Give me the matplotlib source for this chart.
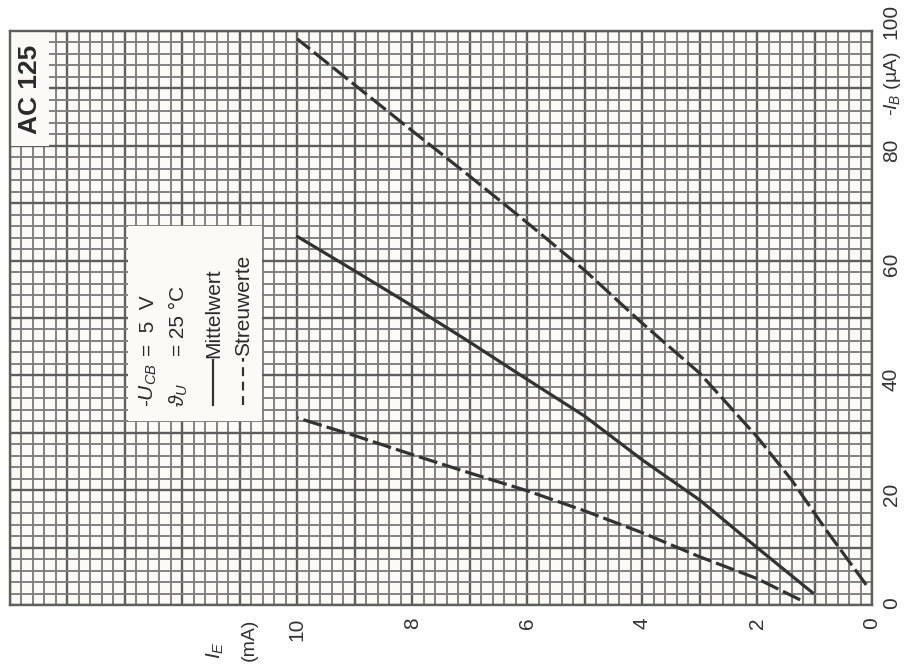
import matplotlib
matplotlib.use("Agg")
import matplotlib.pyplot as plt
from matplotlib.patches import Rectangle
from matplotlib.ticker import MultipleLocator, FuncFormatter

plt.rcParams['font.family'] = ['Liberation Sans', 'DejaVu Sans']
plt.rcParams['mathtext.fontset'] = 'custom'
plt.rcParams['mathtext.it'] = 'Liberation Sans:italic'
plt.rcParams['mathtext.rm'] = 'Liberation Sans'

# emitter current (mA) vs. base current (uA)
ie_mittel = [1.03, 2, 3, 4, 5, 6, 7, 8, 9, 10]
ib_mittel = [2.1, 10.0, 18.3, 25.3, 32.9, 39.3, 45.8, 52.1, 58.2, 64.2]

ie_streu_hi = [0.1, 0.8, 1.4, 2, 3, 4, 5, 6, 7, 8, 9, 10]
ib_streu_hi = [3.5, 13.1, 21.8, 29.3, 40.4, 49.1, 58.3, 66.6, 74.7, 82.6, 90.6, 98.6]

ie_streu_lo = [1.25, 2, 3, 4, 5, 6, 7, 8, 9, 10]
ib_streu_lo = [0.9, 4.6, 8.4, 12.6, 16.4, 19.9, 23.0, 26.2, 29.5, 32.6]

ie_labels = [0, 2, 4, 6, 8, 10]
ib_labels = [0, 20, 40, 60, 80, 100]

ink = '#333333'
paper = '#fbfaf6'

fig = plt.figure(figsize=(9.16, 6.70), dpi=100)
ax = fig.add_axes([10 / 916, 1 - 605 / 670, 862 / 916, 574 / 670])
ax.set_xlim(15, 0)
ax.set_ylim(0, 100)
ax.set_facecolor(paper)

# graph paper
ax.xaxis.set_major_locator(MultipleLocator(1))
ax.xaxis.set_minor_locator(MultipleLocator(0.2))
ax.yaxis.set_major_locator(MultipleLocator(10))
ax.yaxis.set_minor_locator(MultipleLocator(2))
ax.grid(which='minor', color='#7e7e7e', lw=1.35)
ax.grid(which='major', color='#5e5e5e', lw=1.7)
for s in ax.spines.values():
    s.set_color('#5e5e5e')
    s.set_linewidth(1.7)


def fmt(allowed, top):
    def f(v, p):
        r = round(v)
        if abs(v - r) < 1e-6 and r in allowed and r != top:
            return str(int(r))
        return ''
    return f


ax.xaxis.set_major_formatter(FuncFormatter(fmt(ie_labels, None)))
ax.yaxis.set_major_formatter(FuncFormatter(fmt(ib_labels, ib_labels[-1])))
ax.yaxis.tick_right()
ax.tick_params(which='both', length=0)
ax.tick_params(axis='x', labelrotation=90, pad=9, labelsize=15, labelcolor='#333333')
ax.tick_params(axis='y', labelrotation=90, pad=7, labelsize=15, labelcolor='#333333')
# top label sits a little above the frame
ax.annotate(str(ib_labels[-1]), xy=(0, ib_labels[-1]), xytext=(7, 7), textcoords='offset points',
            rotation=90, ha='left', va='center', fontsize=15, color='#333333',
            annotation_clip=False)

# curves
ax.plot(ie_mittel, ib_mittel, color=ink, lw=2.3, zorder=3, solid_capstyle='round')
ax.plot(ie_streu_hi, ib_streu_hi, color=ink, lw=2.3, ls=(0, (6, 1.6)), zorder=3)
ax.plot(ie_streu_lo, ib_streu_lo, color=ink, lw=2.3, ls=(0, (6, 1.6)), zorder=3)

# type box
ax.add_patch(Rectangle((14.33, 80), 0.67, 20, facecolor=paper, edgecolor='none', zorder=2))
ax.text(14.66, 89.9, 'AC 125', rotation=90, ha='center', va='center', fontsize=19,
        fontweight='bold', color='#2a2a2a', zorder=4)

# legend box
ax.add_patch(Rectangle((10.62, 32), 2.33, 34, facecolor=paper, edgecolor='none', zorder=2))
tk = dict(rotation=90, rotation_mode='anchor', ha='left', va='center', fontsize=15,
          color='#2a2a2a', zorder=4)
ax.text(12.59, 34.5, r'-$U_{CB}$', **tk)
ax.text(12.59, 43.4, '=  5  V', **tk)
ax.text(12.07, 34.5, r'$\vartheta_U$', **tk)
ax.text(12.07, 43.4, '= 25 °C', **tk)
ax.plot([11.46, 11.46], [34.8, 42.6], color=ink, lw=1.6, zorder=4)
ax.text(11.46, 43.0, 'Mittelwert', **tk)
ax.plot([10.94, 10.94], [34.8, 43.0], color=ink, lw=1.6, ls=(0, (4, 2.5)), zorder=4)
ax.text(10.94, 43.4, 'Streuwerte', **tk)

# axis titles
ax.text(-0.35, 90.8, r'-$I_B$ (µA)', rotation=90, ha='center', va='center', fontsize=14,
        color='#333333', clip_on=False)
ax.text(11.43, -7.8, r'$I_E$', rotation=90, ha='center', va='center', fontsize=15,
        color='#333333', clip_on=False)
ax.text(10.84, -6.1, '(mA)', rotation=90, ha='center', va='center', fontsize=14,
        color='#333333', clip_on=False)

fig.savefig('out.png', dpi=100, facecolor='white')
